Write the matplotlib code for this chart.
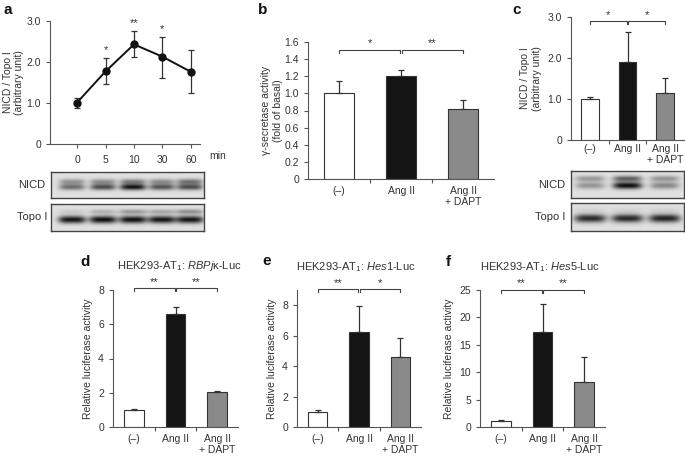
import numpy as np
import matplotlib.pyplot as plt

plt.rcParams['font.family'] = ['Liberation Sans', 'DejaVu Sans']
plt.rcParams['mathtext.fontset'] = 'custom'
plt.rcParams['mathtext.rm'] = 'Liberation Sans'
plt.rcParams['mathtext.it'] = 'Liberation Sans:italic'

W, H = 685, 457
TXT = '#333333'
AXC = '#555555'

# panel a: time course
a_time = ['0', '5', '10', '30', '60']
a_mean = [1.01, 1.77, 2.43, 2.13, 1.76]
a_err_lo = [0.12, 0.31, 0.32, 0.51, 0.52]
a_err_hi = [0.12, 0.32, 0.33, 0.48, 0.54]
a_stars = ['', '*', '**', '*', '']

# bar panels
groups = ['(–)', 'Ang II', 'Ang II\n+ DAPT']
b_mean = [1.0, 1.2, 0.82]
b_err = [0.15, 0.07, 0.10]
b_sig = ['*', '**']
c_mean = [1.01, 1.90, 1.14]
c_err = [0.04, 0.73, 0.38]
c_sig = ['*', '*']
d_mean = [1.01, 6.59, 2.03]
d_err = [0.04, 0.39, 0.09]
d_sig = ['**', '**']
e_mean = [0.97, 6.27, 4.57]
e_err = [0.12, 1.66, 1.28]
e_sig = ['**', '*']
f_mean = [1.03, 17.3, 8.3]
f_err = [0.30, 5.2, 4.4]
f_sig = ['**', '**']

bar_colors = ['white', '#141414', '#8a8a8a']

# blot band intensities per lane
a_nicd_upper = [0.30, 0.32, 0.38, 0.32, 0.42]
a_nicd_lower = [0.45, 0.58, 0.80, 0.55, 0.58]
a_topo_upper = [0.08, 0.18, 0.28, 0.22, 0.32]
a_topo_lower = [0.80, 0.82, 0.82, 0.80, 0.80]
c_nicd_upper = [0.28, 0.50, 0.30]
c_nicd_lower = [0.30, 0.82, 0.35]
c_topo_upper = [0.05, 0.05, 0.05]
c_topo_lower = [0.72, 0.72, 0.75]

fig = plt.figure(figsize=(W / 100, H / 100), dpi=100)


def px_axes(x0, y0, x1, y1):
    return fig.add_axes([x0 / W, 1 - y1 / H, (x1 - x0) / W, (y1 - y0) / H])


def ftext(x, y, s, **kw):
    fig.text(x / W, 1 - y / H, s, color=TXT, **kw)


def style(ax):
    for s in ['top', 'right']:
        ax.spines[s].set_visible(False)
    for s in ['left', 'bottom']:
        ax.spines[s].set_color(AXC)
        ax.spines[s].set_linewidth(0.8)
    ax.tick_params(colors=AXC, labelcolor=TXT, labelsize=7.5, length=3, width=0.8)


def bar_panel(ax, mean, err, sig, ymax, yticks, ytl, ylabel, br_y, xpad=5, lpad=4):
    x = np.arange(3)
    ax.bar(x, mean, width=0.47, color=bar_colors, edgecolor='#333333', linewidth=0.8, zorder=2)
    ax.errorbar(x, mean, yerr=[np.zeros(3), err], fmt='none', ecolor='#333333',
                elinewidth=0.9, capsize=2.5, capthick=0.9, zorder=3)
    ax.set_xlim(-0.5, 2.5)
    ax.set_ylim(0, ymax)
    ax.set_yticks(yticks, ytl)
    ax.set_xticks(x, groups, linespacing=1.1)
    ax.set_xticks([0.5, 1.5], minor=True)
    style(ax)
    ax.tick_params(axis='x', which='major', length=0, pad=xpad)
    ax.tick_params(axis='x', which='minor', length=3, width=0.8, colors=AXC)
    ax.set_ylabel(ylabel, fontsize=7.5, color=TXT, labelpad=lpad)
    # significance brackets
    bh = ymax * 3 / (ax.get_position().height * H)
    for (xa, xb), s in zip([(0, 0.985), (1.015, 2)], sig):
        ax.plot([xa, xa, xb, xb], [br_y - bh, br_y, br_y, br_y - bh], color='#444444',
                lw=0.8, clip_on=False)
        ax.text((xa + xb) / 2, br_y + bh * 0.5, s, ha='center', va='bottom',
                fontsize=8, color=TXT, clip_on=False)


def blot(x0, y0, x1, y1, lanes, halfw, bands, label, lx):
    ax = px_axes(x0, y0, x1, y1)
    ny, nx = 60, 300
    yy, xx = np.mgrid[0:1:ny * 1j, 0:1:nx * 1j]
    img = np.full((ny, nx), 0.12)
    for ypos, ysig, vals in bands:
        for cx, v in zip(lanes, vals):
            img += v * np.exp(-((xx - cx) / halfw) ** 4) * np.exp(-((yy - ypos) / ysig) ** 2)
    ax.imshow(img, cmap='gray_r', vmin=0, vmax=1, aspect='auto', extent=[0, 1, 1, 0],
              interpolation='bilinear')
    ax.set_xticks([])
    ax.set_yticks([])
    for s in ax.spines.values():
        s.set_color('#444444')
        s.set_linewidth(1.0)
    ftext(lx, (y0 + y1) / 2, label, ha='right', va='center', fontsize=8)


# ---- panel a
ax = px_axes(50, 21, 200, 144)
xa = np.arange(len(a_time))
ax.errorbar(xa, a_mean, yerr=[a_err_lo, a_err_hi], fmt='-o', color='#111111', ms=5,
            lw=1.4, ecolor='#333333', elinewidth=0.9, capsize=2.5, capthick=0.9)
for i, s in enumerate(a_stars):
    if s:
        ax.text(xa[i], a_mean[i] + a_err_hi[i] + 0.07, s, ha='center', va='bottom',
                fontsize=8, color=TXT)
ax.set_xlim(-0.95, 4.32)
ax.set_ylim(0, 3.0)
ax.set_yticks([0, 1, 2, 3], ['0', '1.0', '2.0', '3.0'])
ax.set_xticks(xa, a_time)
style(ax)
ax.tick_params(axis='x', pad=5)
ax.set_ylabel('NICD / Topo I\n(arbitrary unit)', fontsize=7.5, color=TXT, labelpad=2,
              linespacing=1.1)
ftext(218, 156, 'min', ha='center', va='center', fontsize=7.5)

lanes_a = [(72 - 51) / 153, (103 - 51) / 153, (133 - 51) / 153, (162 - 51) / 153, (190 - 51) / 153]
blot(51, 172, 204, 198, lanes_a, 0.085,
     [(0.37, 0.11, a_nicd_upper), (0.58, 0.12, a_nicd_lower)], 'NICD', 45)
blot(51, 204, 204, 231, lanes_a, 0.09,
     [(0.28, 0.09, a_topo_upper), (0.58, 0.14, a_topo_lower)], 'Topo I', 47)

# ---- panel b
ax = px_axes(308, 42, 494, 179)
bar_panel(ax, b_mean, b_err, b_sig, 1.6, np.arange(0, 1.61, 0.2),
          ['0'] + ['%.1f' % v for v in np.arange(0.2, 1.61, 0.2)],
          'γ-secretase activity\n(fold of basal)', 1.51, lpad=1)

# ---- panel c
ax = px_axes(571, 17, 684, 140)
bar_panel(ax, c_mean, c_err, c_sig, 3.0, [0, 1, 2, 3], ['0', '1.0', '2.0', '3.0'],
          'NICD / Topo I\n(arbitrary unit)', 2.90, xpad=3)
lanes_c = [0.17, 0.5, 0.83]
blot(571, 171, 684, 198, lanes_c, 0.13,
     [(0.28, 0.11, c_nicd_upper), (0.54, 0.13, c_nicd_lower)], 'NICD', 565)
blot(571, 203, 684, 231, lanes_c, 0.14,
     [(0.25, 0.1, c_topo_upper), (0.55, 0.15, c_topo_lower)], 'Topo I', 565)

# ---- panels d, e, f
ax = px_axes(113, 290, 238, 427)
bar_panel(ax, d_mean, d_err, d_sig, 8, [0, 2, 4, 6, 8], ['0', '2', '4', '6', '8'],
          'Relative luciferase activity', 8.1)
ax = px_axes(297, 290, 421, 427)
bar_panel(ax, e_mean, e_err, e_sig, 9, [0, 2, 4, 6, 8], ['0', '2', '4', '6', '8'],
          'Relative luciferase activity', 9.05)
ax = px_axes(480, 290, 605, 427)
bar_panel(ax, f_mean, f_err, f_sig, 25, [0, 5, 10, 15, 20, 25],
          ['0', '5', '10', '15', '20', '25'], 'Relative luciferase activity', 25.0)

ftext(179, 266, 'HEK293-AT$_1$: $\\mathit{RBPj}$κ-Luc', ha='center', va='center', fontsize=8)
ftext(356, 267, 'HEK293-AT$_1$: $\\mathit{Hes1}$-Luc', ha='center', va='center', fontsize=8)
ftext(540, 267, 'HEK293-AT$_1$: $\\mathit{Hes5}$-Luc', ha='center', va='center', fontsize=8)

# panel letters
for lx, ly, s in [(3, 10, 'a'), (258, 10, 'b'), (512, 10, 'c'),
                  (80, 262, 'd'), (262, 261, 'e'), (446, 262, 'f')]:
    fig.text(lx / W, 1 - ly / H, s, fontsize=11, fontweight='bold', color='#111111',
             ha='left', va='center')

fig.savefig('out.png', dpi=100)
